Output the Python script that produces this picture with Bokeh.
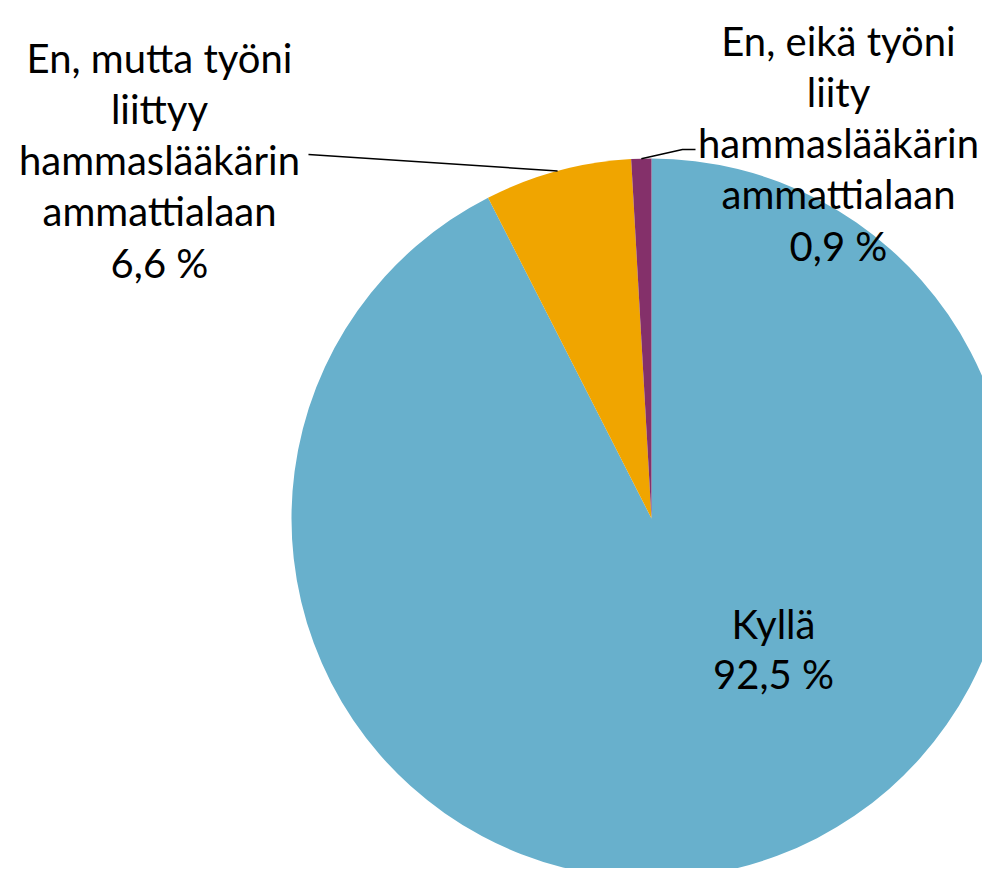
import math
from bokeh.plotting import figure
from bokeh.models import Range1d, ColumnDataSource
from bokeh.core.properties import value
from bokeh.embed import file_html
from bokeh.resources import INLINE

# ---- data ----
categories = ["Kyllä",
              "En, mutta työni liittyy hammaslääkärin ammattialaan",
              "En, eikä työni liity hammaslääkärin ammattialaan"]
shares = [92.5, 6.6, 0.9]
share_labels = ["92,5 %", "6,6 %", "0,9 %"]
colors = ["#68B0CC", "#F0A500", "#84306A"]

# wrapped label lines (layout)
label_lines = [
    ["Kyllä"],
    ["En, mutta työni", "liittyy", "hammaslääkärin", "ammattialaan"],
    ["En, eikä työni", "liity", "hammaslääkärin", "ammattialaan"],
]

# ---- layout (image-pixel coordinates, y up = -image y) ----
W, H = 982, 868
OX, OY = 0, 0
cx, cy = 651, -518
R = 360
label_anchor = [(773, -623), (159, -57), (838, -40)]  # first-line baseline centers
line_gap = 51.3
FONT = "Lato"
FSIZE = "40px"

p = figure(width=W, height=H, output_backend="svg", toolbar_location=None,
           x_range=Range1d(OX, OX + W), y_range=Range1d(-(OY + H), -OY),
           min_border=0, outline_line_color=None, background_fill_color="white",
           border_fill_color="white")
p.axis.visible = False
p.grid.visible = False

total = sum(shares)
starts, ends, mids = [], [], []
acc = 0.0
for s in shares:
    a0 = math.pi / 2 - 2 * math.pi * acc / total
    acc += s
    a1 = math.pi / 2 - 2 * math.pi * acc / total
    starts.append(a0)
    ends.append(a1)
    mids.append((a0 + a1) / 2)

src = ColumnDataSource(dict(x=[cx] * 3, y=[cy] * 3, start=starts, end=ends,
                            color=colors, cat=categories, share=shares))
p.wedge(x="x", y="y", radius=R, start_angle="start", end_angle="end",
        direction="clock", fill_color="color", line_color=None, source=src)

# leader lines for the two small slices
leader_ends = {1: [(308, -154)], 2: [(682, -149), (695, -149)]}
for i, pts in leader_ends.items():
    ex = cx + R * math.cos(mids[i])
    ey = cy + R * math.sin(mids[i])
    xs = [ex] + [q[0] for q in pts]
    ys = [ey] + [q[1] for q in pts]
    p.line(xs, ys, line_color="black", line_width=1.5)

# labels
tx, ty, tt = [], [], []
for i, lines in enumerate(label_lines):
    allines = lines + [share_labels[i]]
    ax, ay = label_anchor[i]
    for k, t in enumerate(allines):
        tx.append(ax)
        ty.append(ay - k * (50 if i == 0 else line_gap))
        tt.append(t)
p.text(x=tx, y=ty, text=tt, text_align="center", text_baseline="alphabetic",
       text_font=value(FONT), text_font_size=FSIZE, text_color="black")

open("out.html", "w").write(file_html(p, INLINE))
